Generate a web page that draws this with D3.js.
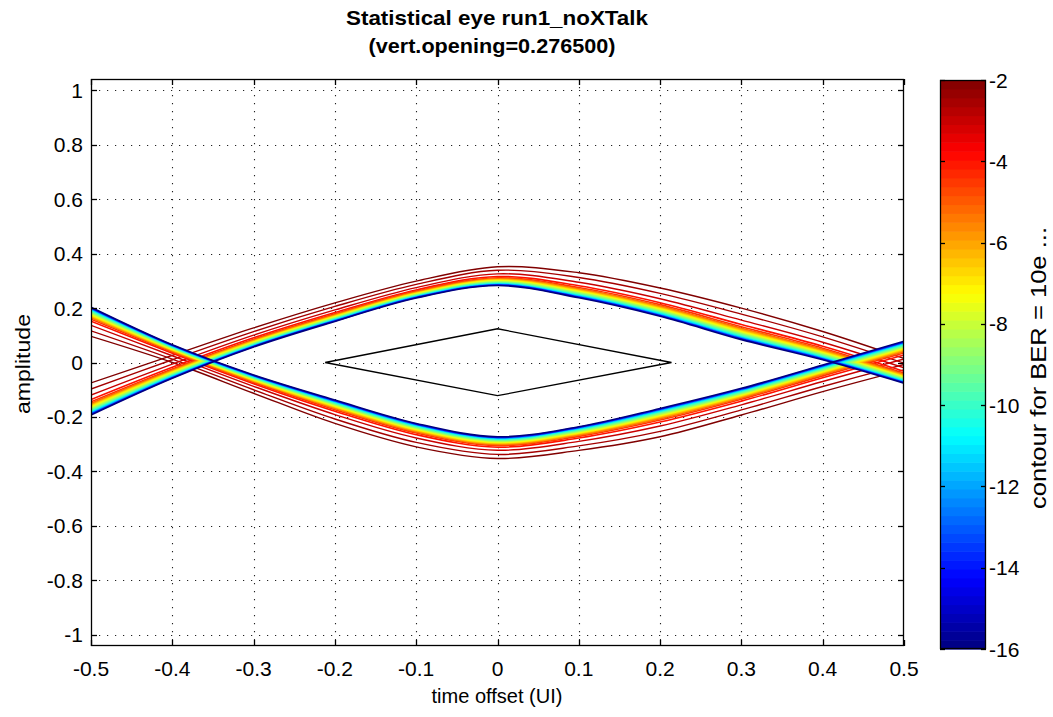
<!DOCTYPE html>
<html><head><meta charset="utf-8">
<script src="https://cdn.jsdelivr.net/npm/d3@7"></script>
<style>
body{margin:0;background:#fff}
svg{display:block}
text{font-family:"Liberation Sans",Arial,Helvetica,sans-serif;fill:#000}
</style>
</head><body>
<svg id="chart" width="1053" height="717"></svg>
<script>
// ---- data ----
const timePts   = [-0.5, -0.4, -0.3, -0.2, -0.1, 0, 0.1, 0.2, 0.3, 0.4, 0.5];
// "1" trajectory band: inner (BER 1e-16, blue) edge and outermost (1e-2) contour
const oneInner  = [-0.193, -0.058, 0.057, 0.151, 0.237, 0.283, 0.238, 0.170, 0.084, 0.010, -0.076];
const oneOuter  = [-0.075, 0.026, 0.127, 0.219, 0.299, 0.352, 0.330, 0.274, 0.200, 0.114, 0.015];
// "0" trajectory band
const zeroInner = [0.203, 0.065, -0.046, -0.138, -0.224, -0.273, -0.236, -0.169, -0.095, -0.009, 0.078];
const zeroOuter = [0.096, 0.000, -0.113, -0.224, -0.310, -0.353, -0.323, -0.273, -0.193, -0.107, -0.027];
// contour levels (log10 BER) and their relative depth from inner edge to outer edge
const berLevels  = [-16, -14, -12, -11, -10, -9.5, -9, -8.5, -8, -7.5, -7, -6.5, -6, -5.5, -5, -4.5, -4, -3, -2.5, -2];
const levelDepth = [0, 0.028, 0.056, 0.084, 0.11, 0.135, 0.16, 0.185, 0.21, 0.235, 0.26, 0.285, 0.31, 0.335, 0.36, 0.41, 0.48, 0.62, 0.81, 1.0];
// eye mask (black diamond)
const maskT = [-0.212, 0, 0.214, 0, -0.212];
const maskV = [0, 0.124, 0, -0.122, 0];
// ticks and texts
const xTicks  = [-0.5,-0.4,-0.3,-0.2,-0.1,0,0.1,0.2,0.3,0.4,0.5];
const yTicks  = [-1,-0.8,-0.6,-0.4,-0.2,0,0.2,0.4,0.6,0.8,1];
const cbTicks = [-2,-4,-6,-8,-10,-12,-14,-16];
const cbRange = [-16,-2];
const titleLines = ["Statistical eye run1_noXTalk", "(vert.opening=0.276500)"];
const xLabel = "time offset (UI)";
const yLabel = "amplitude";
const cbLabel = "contour for BER = 10e ...";

// ---- layout ----
const P = {l:91, r:904, t:79, b:646};
const CB = {l:940, r:986, t:80, b:649};

const svg = d3.select("#chart");
svg.append("rect").attr("width",1053).attr("height",717).attr("fill","#fff");

const x = d3.scaleLinear().domain([-0.5,0.5]).range([P.l,P.r]);
const y = d3.scaleLinear().domain([-1.042,1.042]).range([P.b,P.t]);
const cbY = d3.scaleLinear().domain(cbRange).range([CB.b,CB.t]);
const tOf = d3.scaleLinear().domain(cbRange).range([0,1]);

function jet(t){
  const c = v => Math.max(0, Math.min(1, v));
  return d3.rgb(255*c(1.5-Math.abs(4*t-3)), 255*c(1.5-Math.abs(4*t-2)), 255*c(1.5-Math.abs(4*t-1))).toString();
}
const colorOf = L => jet(tOf(L));

// ---- grid ----
const grid = svg.append("g").attr("stroke","#222").attr("stroke-width",1.1).attr("stroke-dasharray","1.2,6.8");
grid.selectAll("line.gx").data(xTicks.filter(v=>v>-0.5&&v<0.5)).join("line")
  .attr("x1",d=>Math.round(x(d))+0.5).attr("x2",d=>Math.round(x(d))+0.5).attr("y1",P.t).attr("y2",P.b);
grid.selectAll("line.gy").data(yTicks).join("line")
  .attr("y1",d=>Math.round(y(d))+0.5).attr("y2",d=>Math.round(y(d))+0.5).attr("x1",P.l).attr("x2",P.r);

// ---- contour bands ----
svg.append("clipPath").attr("id","pclip").append("rect")
  .attr("x",P.l).attr("y",P.t).attr("width",P.r-P.l).attr("height",P.b-P.t);
const bandG = svg.append("g").attr("clip-path","url(#pclip)").attr("fill","none");
const line = d3.line().curve(d3.curveCatmullRom.alpha(0.5));
const bands = [[oneInner, oneOuter],[zeroInner, zeroOuter]];
const levelIdx = d3.range(berLevels.length).reverse();
levelIdx.forEach(k=>{
  bands.forEach(([inner, outer])=>{
    const pts = timePts.map((t,i)=>[x(t), y(inner[i] + (outer[i]-inner[i])*levelDepth[k])]);
    bandG.append("path").attr("d", line(pts))
      .attr("stroke", colorOf(berLevels[k]))
      .attr("stroke-width", berLevels[k] > -4 ? 1.4 : 1.6);
  });
});

// ---- eye mask ----
svg.append("path").attr("fill","none").attr("stroke","#000").attr("stroke-width",1.3)
  .attr("d", d3.line()(maskT.map((t,i)=>[x(t), y(maskV[i])])));

// ---- axes box and ticks ----
svg.append("rect").attr("x",P.l+0.5).attr("y",P.t+0.5).attr("width",P.r-P.l-1).attr("height",P.b-P.t-1)
  .attr("fill","none").attr("stroke","#000").attr("stroke-width",1.3);
const tk = svg.append("g").attr("stroke","#000").attr("stroke-width",1.3);
const TL = 6;
xTicks.forEach(v=>{
  const px = Math.round(x(v))+0.5;
  tk.append("line").attr("x1",px).attr("x2",px).attr("y1",P.b).attr("y2",P.b-TL);
  tk.append("line").attr("x1",px).attr("x2",px).attr("y1",P.t).attr("y2",P.t+TL);
});
yTicks.forEach(v=>{
  const py = Math.round(y(v))+0.5;
  tk.append("line").attr("x1",P.l).attr("x2",P.l+TL).attr("y1",py).attr("y2",py);
  tk.append("line").attr("x1",P.r).attr("x2",P.r-TL).attr("y1",py).attr("y2",py);
});

// tick labels
svg.append("g").selectAll("text").data(xTicks).join("text")
  .attr("x",d=>x(d)).attr("y",676).attr("text-anchor","middle").attr("font-size",21)
  .text(d=>String(d));
svg.append("g").selectAll("text").data(yTicks).join("text")
  .attr("x",83).attr("y",d=>y(d)).attr("dy","0.36em").attr("text-anchor","end").attr("font-size",21)
  .text(d=>String(d));

// ---- titles & labels ----
svg.append("text").attr("x",497).attr("y",25).attr("text-anchor","middle").attr("font-size",21).attr("font-weight","bold")
  .attr("textLength",302).attr("lengthAdjust","spacingAndGlyphs").text(titleLines[0]);
svg.append("text").attr("x",492).attr("y",53).attr("text-anchor","middle").attr("font-size",21).attr("font-weight","bold")
  .attr("textLength",247).attr("lengthAdjust","spacingAndGlyphs").text(titleLines[1]);
svg.append("text").attr("x",497).attr("y",703).attr("text-anchor","middle").attr("font-size",20)
  .attr("textLength",131).attr("lengthAdjust","spacingAndGlyphs").text(xLabel);
svg.append("text").attr("transform","translate(30,364) rotate(-90)").attr("text-anchor","middle").attr("font-size",21)
  .attr("textLength",100).attr("lengthAdjust","spacingAndGlyphs").text(yLabel);

// ---- colorbar ----
const nC = 64;
const step = (cbRange[1]-cbRange[0])/nC;
const cbG = svg.append("g");
cbG.selectAll("rect").data(d3.range(nC)).join("rect")
  .attr("x",CB.l).attr("width",CB.r-CB.l)
  .attr("y",i=>cbY(cbRange[0]+(i+1)*step)).attr("height",i=>cbY(cbRange[0]+i*step)-cbY(cbRange[0]+(i+1)*step)+0.6)
  .attr("fill",i=>jet((i+0.5)/nC));
cbG.append("rect").attr("x",CB.l+0.5).attr("y",CB.t+0.5).attr("width",CB.r-CB.l-1).attr("height",CB.b-CB.t-1)
  .attr("fill","none").attr("stroke","#000").attr("stroke-width",1.3);
const cbT = svg.append("g").attr("stroke","#000").attr("stroke-width",1.3);
cbTicks.forEach(v=>{
  const py = Math.round(cbY(v))+0.5;
  cbT.append("line").attr("x1",CB.l).attr("x2",CB.l+5).attr("y1",py).attr("y2",py);
  cbT.append("line").attr("x1",CB.r).attr("x2",CB.r-5).attr("y1",py).attr("y2",py);
});
svg.append("g").selectAll("text").data(cbTicks).join("text")
  .attr("x",989).attr("y",d=>cbY(d)).attr("dy","0.36em").attr("font-size",21)
  .text(d=>String(d));
svg.append("text").attr("transform","translate(1046,368) rotate(-90)").attr("text-anchor","middle").attr("font-size",22)
  .attr("textLength",282).attr("lengthAdjust","spacingAndGlyphs").text(cbLabel);
</script>
</body></html>
